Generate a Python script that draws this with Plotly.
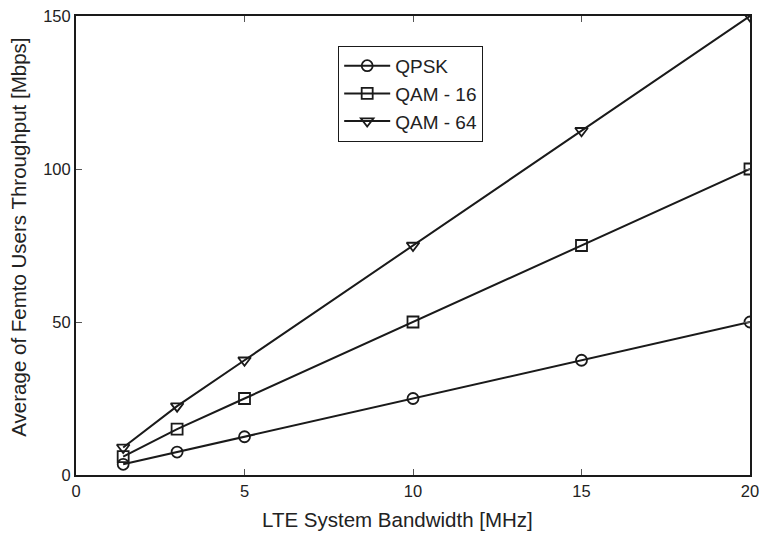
import plotly.graph_objects as go

bandwidth = [1.4, 3, 5, 10, 15, 20]
qpsk = [3.5, 7.5, 12.5, 25, 37.5, 50]
qam16 = [6, 15, 25, 50, 75, 100]
qam64 = [9, 22.5, 37.5, 75, 112.5, 150]
series_names = ["QPSK", "QAM - 16", "QAM - 64"]
x_ticks = [0, 5, 10, 15, 20]
y_ticks = [0, 50, 100, 150]
x_title = "LTE System Bandwidth [MHz]"
y_title = "Average of Femto Users Throughput [Mbps]"

fig = go.Figure()
symbols = ["circle-open", "square-open", "triangle-down-open"]
for name, vals, sym in zip(series_names, [qpsk, qam16, qam64], symbols):
    fig.add_trace(go.Scatter(
        x=bandwidth, y=vals, name=name, mode="lines+markers",
        line=dict(color="#1a1a1a", width=2),
        marker=dict(symbol=sym, size=11, color="#1a1a1a", line=dict(width=1.8, color="#1a1a1a")),
    ))

FONT = "Liberation Sans, Arial"
axis_common = dict(
    showline=True, linecolor="#1a1a1a", linewidth=2, mirror="ticks",
    ticks="inside", ticklen=6, tickwidth=1, tickcolor="#555",
    showgrid=False, zeroline=False, automargin=False,
    tickfont=dict(family=FONT, size=16.5, color="#222"),
)

fig.update_layout(
    width=760, height=533,
    margin=dict(l=76, r=10, t=16, b=58, autoexpand=False),
    paper_bgcolor="white", plot_bgcolor="white",
    font=dict(family=FONT, color="#222"),
    xaxis=dict(range=[0, 20], tickvals=x_ticks, **axis_common),
    yaxis=dict(range=[0, 150], tickvals=y_ticks, **axis_common),
    legend=dict(x=0.389, y=0.935, xanchor="left", yanchor="top",
                bgcolor="white", bordercolor="#1a1a1a", borderwidth=1,
                font=dict(size=19, family=FONT),
                tracegroupgap=0, itemwidth=46),
    showlegend=True,
    annotations=[
        dict(text=x_title, xref="paper", yref="paper", x=0.477, y=0,
             xanchor="center", yanchor="middle", yshift=-44, showarrow=False,
             font=dict(size=20.5, family=FONT, color="#222")),
        dict(text=y_title, xref="paper", yref="paper", x=0, y=0.517,
             xanchor="center", yanchor="middle", xshift=-57, textangle=-90,
             showarrow=False, font=dict(size=20.5, family=FONT, color="#222")),
    ],
)

fig.write_html("out.html")
